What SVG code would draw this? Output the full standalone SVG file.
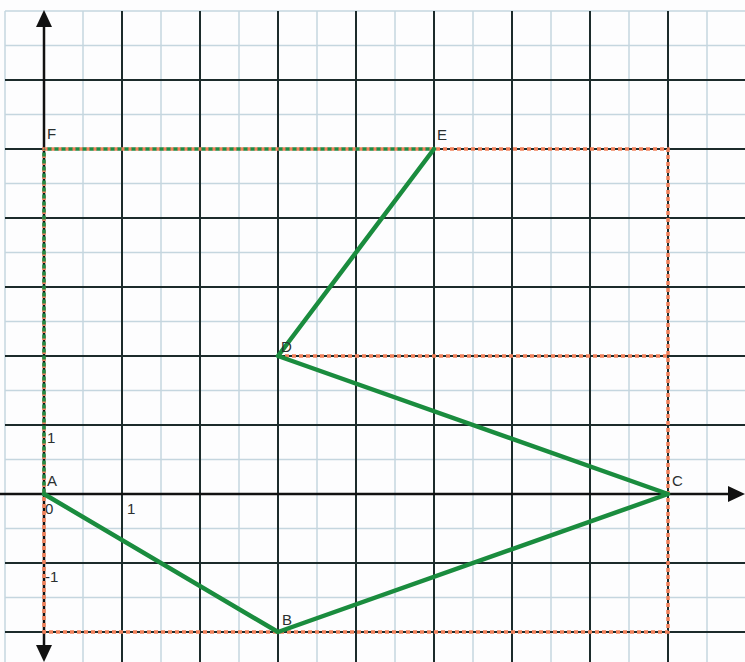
<svg xmlns="http://www.w3.org/2000/svg" width="745" height="662" viewBox="0 0 745 662">
<style>
.minor{stroke:#c5d6df;stroke-width:1.5;fill:none}
.major{stroke:#1c2b2b;stroke-width:2;fill:none}
.axis{stroke:#111;stroke-width:2.5;fill:none}
.red{stroke:#f0805a;stroke-width:3.5;stroke-dasharray:4 3;fill:none}
.green{stroke:#1f8a45;stroke-width:3.5;stroke-dasharray:4 3;stroke-dashoffset:3.5;fill:none}
.seg{stroke:#1a8c3e;stroke-width:4.5;fill:none;stroke-linejoin:round;stroke-linecap:round}
.lbl{font-family:"Liberation Sans",Arial,sans-serif;font-size:15px;fill:#2a3030}
</style>
<rect width="745" height="662" fill="#fdfdfe"/>
<g id="grid">
<path class="minor" d="M5 11H745M5 45.5H745M5 114.5H745M5 183.5H745M5 252.5H745M5 321.5H745M5 390.5H745M5 459.5H745M5 528.5H745M5 597.5H745"/>
<path class="minor" d="M5 11V662M83 11V662M161 11V662M239 11V662M317 11V662M395 11V662M473 11V662M551 11V662M629 11V662M707 11V662"/>
<path class="major" d="M5 80H745M5 149H745M5 218H745M5 287H745M5 356H745M5 425H745M5 563H745M5 632H745"/>
<path class="major" d="M122 11V662M200 11V662M278 11V662M356 11V662M434 11V662M512 11V662M590 11V662M668 11V662"/>
</g>
<g id="axes">
<path class="axis" d="M0 494H730M44 26V646"/>
<polygon points="745,494 728,486 728,502" fill="#111"/>
<polygon points="44,10 36,27 52,27" fill="#111"/>
<polygon points="44,662 36,645 52,645" fill="#111"/>
</g>
<g id="connectors">
<path class="red" d="M44 149H668V632H44ZM278 356H668"/>
<path class="green" d="M44 149H434M44 149V494"/>
<path class="seg" d="M44 494L278 632L668 494L278 356L434 149"/>
</g>
<g id="labels">
<text class="lbl" x="47" y="139">F</text>
<text class="lbl" x="437" y="140">E</text>
<text class="lbl" x="281" y="352">D</text>
<text class="lbl" x="672" y="486">C</text>
<text class="lbl" x="282" y="625">B</text>
<text class="lbl" x="47" y="486">A</text>
<text class="lbl" x="45" y="514">0</text>
<text class="lbl" x="127" y="514">1</text>
<text class="lbl" x="47" y="443">1</text>
<text class="lbl" x="45" y="582">-1</text>
</g>
</svg>
